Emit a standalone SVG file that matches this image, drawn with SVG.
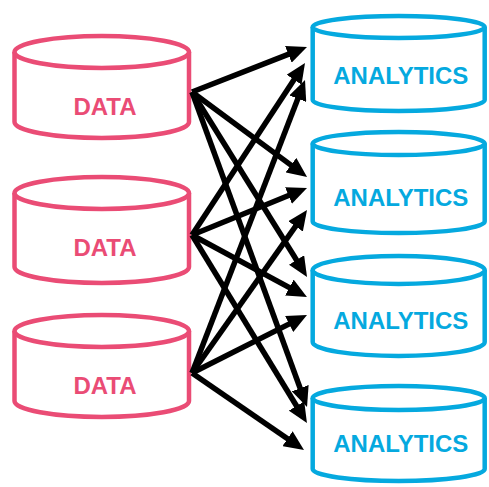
<svg xmlns="http://www.w3.org/2000/svg" width="489" height="487" viewBox="0 0 489 487">
<style>
.data{fill:#fff;stroke:#EA4C75;stroke-width:4.5}
.ana{fill:#fff;stroke:#05A9DF;stroke-width:4.5}
.dt{fill:#EA4C75;font-family:"Liberation Sans",Arial,sans-serif;font-weight:bold;font-size:24px;text-anchor:middle}
.at{fill:#05A9DF;font-family:"Liberation Sans",Arial,sans-serif;font-weight:bold;font-size:24px;text-anchor:middle}
.c line{stroke:#000;stroke-width:5.5;marker-end:url(#ah)}
</style>
<defs>
<marker id="ah" markerUnits="userSpaceOnUse" viewBox="0 0 20 18" markerWidth="20" markerHeight="18" refX="8" refY="9" orient="auto">
<path d="M0,0 L20,9 L0,18 z" fill="#000"/>
</marker>
</defs>
<g id="data1">
<path class="data" d="M14.5,52 L14.5,122 A87.25,16 0 0 0 189,122 L189,52"/>
<ellipse class="data" cx="101.75" cy="52" rx="87.25" ry="16"/>
<text class="dt" x="105" y="114.5">DATA</text>
</g>
<g id="data2">
<path class="data" d="M14.5,193 L14.5,267 A87.25,16 0 0 0 189,267 L189,193"/>
<ellipse class="data" cx="101.75" cy="193" rx="87.25" ry="16"/>
<text class="dt" x="105" y="255.5">DATA</text>
</g>
<g id="data3">
<path class="data" d="M14.5,331 L14.5,401 A87.25,16 0 0 0 189,401 L189,331"/>
<ellipse class="data" cx="101.75" cy="331" rx="87.25" ry="16"/>
<text class="dt" x="105" y="393.5">DATA</text>
</g>
<g id="analytics1">
<path class="ana" d="M312.7,27 L312.7,100 A86,11 0 0 0 484.7,100 L484.7,27"/>
<ellipse class="ana" cx="398.7" cy="27" rx="86" ry="11"/>
<text class="at" x="400.8" y="83.5">ANALYTICS</text>
</g>
<g id="analytics2">
<path class="ana" d="M312.7,143.5 L312.7,221.5 A86,11.5 0 0 0 484.7,221.5 L484.7,143.5"/>
<ellipse class="ana" cx="398.7" cy="143.5" rx="86" ry="11.5"/>
<text class="at" x="400.8" y="205.5">ANALYTICS</text>
</g>
<g id="analytics3">
<path class="ana" d="M312.7,270 L312.7,342 A86,14 0 0 0 484.7,342 L484.7,270"/>
<ellipse class="ana" cx="398.7" cy="270" rx="86" ry="14"/>
<text class="at" x="400.8" y="328.5">ANALYTICS</text>
</g>
<g id="analytics4">
<path class="ana" d="M312.7,398 L312.7,469 A86,12 0 0 0 484.7,469 L484.7,398"/>
<ellipse class="ana" cx="398.7" cy="398" rx="86" ry="12"/>
<text class="at" x="400.8" y="451.5">ANALYTICS</text>
</g>
<g id="connectors" class="c">
<line x1="192" y1="92" x2="295.8" y2="51.4"/>
<line x1="192" y1="92" x2="297.4" y2="169.9"/>
<line x1="192" y1="92" x2="300.7" y2="266.8"/>
<line x1="192" y1="92" x2="302.9" y2="395.7"/>
<line x1="192" y1="235" x2="298.4" y2="73"/>
<line x1="192" y1="235" x2="295.9" y2="192.5"/>
<line x1="192" y1="235" x2="296.4" y2="291.3"/>
<line x1="192" y1="235" x2="300.7" y2="412.8"/>
<line x1="192" y1="373" x2="300.7" y2="91.2"/>
<line x1="192" y1="373" x2="300.1" y2="219.8"/>
<line x1="192" y1="373" x2="296.3" y2="320.4"/>
<line x1="192" y1="373" x2="294.1" y2="443.2"/>
</g>
</svg>
